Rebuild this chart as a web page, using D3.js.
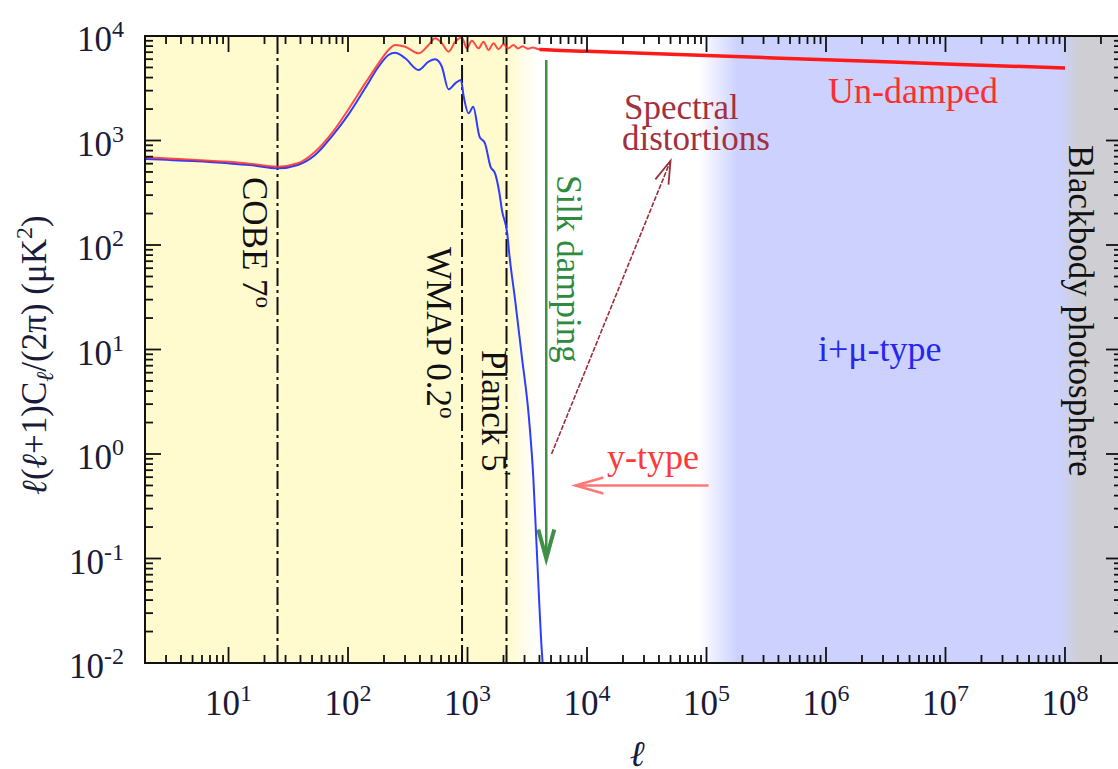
<!DOCTYPE html>
<html><head><meta charset="utf-8">
<script src="https://cdn.jsdelivr.net/npm/d3@7"></script>
<style>
body{margin:0;background:#fff}
svg{display:block}
text{font-family:"Liberation Serif","Times New Roman",serif}
</style>
</head><body>
<svg id="chart" width="1118" height="769"></svg>
<script>
// ---------------- data ----------------
const xDomain = [2, 3e8];
const yDomain = [0.01, 1e4];
const xTickExps = [1, 2, 3, 4, 5, 6, 7, 8];
const yTickExps = [-2, -1, 0, 1, 2, 3, 4];

// un-damped spectrum (red)
const undampedL = [2, 5, 10, 15, 26, 38, 53, 73, 100, 139, 180, 218, 248, 301, 389, 472, 537, 610, 693, 789, 896, 987, 1087, 1236, 1361, 1500, 1650, 1817, 2000, 2200, 2420, 2650, 2900, 3200, 3500, 4000, 5000, 1e4, 1e5, 1e6, 1e7, 1e8];
const undampedV = [690, 655, 625, 600, 562, 605, 781, 1170, 1960, 3520, 5480, 7350, 8200, 7900, 6820, 8200, 9500, 8510, 7080, 8820, 9700, 7620, 9000, 7620, 8820, 7350, 8510, 7470, 8330, 7620, 8200, 7600, 8000, 7550, 7750, 7450, 7350, 7140, 6500, 5930, 5410, 4940];

// Silk-damped spectrum (blue)
const dampedL = [2, 5, 10, 15, 26, 38, 53, 73, 100, 139, 180, 218, 248, 301, 389, 472, 537, 610, 693, 789, 880, 930, 1020, 1115, 1260, 1400, 1560, 1700, 1850, 1940, 2150, 2250, 2500, 2850, 3240, 3550, 3800, 4180, 4250];
const dampedV = [665, 635, 605, 583, 542, 583, 726, 1090, 1750, 3160, 5080, 6580, 6920, 6120, 4730, 5680, 5980, 5080, 3090, 3520, 3790, 2620, 1820, 2100, 1090, 940, 560, 485, 313, 216, 129, 77, 30, 8.5, 2.45, 0.61, 0.12, 0.0133, 0.01];

// experiment resolution limits
const experimentNames = ["COBE 7", "WMAP 0.2", "Planck 5"];
const experimentMarks = ["o", "o", "'"];
const experimentL = [25.7, 900, 2120];

// background region edges in multipole (yellow end, white start, white end, blue start, blue end, grey start)
const regionEdgesL = [2200, 3900, 8.6e4, 1.85e5, 9.0e7, 1.3e8];

// arrows [l1, v1, l2, v2]
const silkArrow = [4560, 5890, 4560, 0.1];
const spectralArrow = [5050, 1.0, 50000, 640];
const yTypeArrow = [1.04e5, 0.5, 8000, 0.5];

// ---------------- drawing ----------------
const svg = d3.select("#chart");
const M = {l: 145, t: 36, r: 1122, b: 663};
const x = d3.scaleLog().domain(xDomain).range([M.l, M.r]);
const y = d3.scaleLog().domain(yDomain).range([M.b, M.t]);

const defs = svg.append("defs");
defs.append("clipPath").attr("id", "clip").append("rect")
  .attr("x", M.l).attr("y", M.t).attr("width", M.r - M.l).attr("height", M.b - M.t);

const YEL = "#fffbcf", WHITE = "#ffffff", BLUE = "#ccd1fd", GREY = "#cfcfd3";
const off = l => (x(l) - M.l) / (M.r - M.l);
const grad = defs.append("linearGradient").attr("id", "bg")
  .attr("gradientUnits", "userSpaceOnUse")
  .attr("x1", M.l).attr("x2", M.r).attr("y1", 0).attr("y2", 0);
const stops = [[0, YEL], [off(regionEdgesL[0]), YEL], [off(regionEdgesL[1]), WHITE],
  [off(regionEdgesL[2]), WHITE], [off(regionEdgesL[3]), BLUE], [off(regionEdgesL[4]), BLUE],
  [off(regionEdgesL[5]), GREY], [1, GREY]];
stops.forEach(s => grad.append("stop").attr("offset", s[0]).attr("stop-color", s[1]));

svg.append("rect").attr("x", M.l).attr("y", M.t).attr("width", M.r - M.l).attr("height", M.b - M.t)
  .attr("fill", "url(#bg)");

const plot = svg.append("g").attr("clip-path", "url(#clip)");

// experiment lines
plot.selectAll("line.exp").data(experimentL).enter().append("line")
  .attr("x1", d => x(d)).attr("x2", d => x(d)).attr("y1", M.t).attr("y2", M.b)
  .attr("stroke", "#111").attr("stroke-width", 2).attr("stroke-dasharray", "18,4,3,4");

// curves
const line = d3.line().x(d => x(d[0])).y(d => y(d[1])).curve(d3.curveMonotoneX);
const damped = dampedL.map((l, i) => [l, dampedV[i]]);
const undamped = undampedL.map((l, i) => [l, undampedV[i]]);

plot.append("path").attr("d", line(damped)).attr("fill", "none")
  .attr("stroke", "#2f3cff").attr("stroke-width", 2);
plot.append("path").attr("d", line(undamped)).attr("fill", "none")
  .attr("stroke", "#ff2a2a").attr("stroke-width", 2).attr("stroke-opacity", 0.85);
plot.append("path").attr("d", line(undamped.filter(d => d[0] >= 4000))).attr("fill", "none")
  .attr("stroke", "#ff1a1a").attr("stroke-width", 3.5);

// arrows
function arrow(g, a, color, width, headLen, headAng, headWidth, dash) {
  const x1 = x(a[0]), y1 = y(a[1]), x2 = x(a[2]), y2 = y(a[3]);
  g.append("line").attr("x1", x1).attr("y1", y1).attr("x2", x2).attr("y2", y2)
    .attr("stroke", color).attr("stroke-width", width).attr("stroke-dasharray", dash || null);
  const ang = Math.atan2(y2 - y1, x2 - x1);
  const p = s => [x2 - headLen * Math.cos(ang + s * headAng), y2 - headLen * Math.sin(ang + s * headAng)];
  const a1 = p(1), a2 = p(-1);
  g.append("path").attr("d", `M${a1[0]},${a1[1]}L${x2},${y2}L${a2[0]},${a2[1]}`)
    .attr("fill", "none").attr("stroke", color).attr("stroke-width", headWidth)
    .attr("stroke-linejoin", "miter");
}
arrow(svg, silkArrow, "#3f8f46", 2.5, 30, 0.27, 4);
arrow(svg, spectralArrow, "#9a2f3c", 1.6, 24, 0.3, 1.8, "5,1.5");
arrow(svg, yTypeArrow, "#ff7777", 2.5, 29, 0.28, 2.5);

// frame + ticks
const axisG = svg.append("g");
axisG.append("rect").attr("x", M.l).attr("y", M.t).attr("width", M.r - M.l).attr("height", M.b - M.t)
  .attr("fill", "none").attr("stroke", "#111").attr("stroke-width", 2);

function tickVals(domain) {
  const out = [];
  for (let k = Math.floor(Math.log10(domain[0])) - 1; k <= Math.ceil(Math.log10(domain[1])); k++)
    for (let m = 1; m <= 9; m++) {
      const v = m * Math.pow(10, k);
      if (v >= domain[0] * 0.999 && v <= domain[1] * 1.001) out.push({v, major: m === 1});
    }
  return out;
}
const MAJ = 16, MIN = 8;
tickVals(xDomain).forEach(t => {
  const px = x(t.v), len = t.major ? MAJ : MIN;
  axisG.append("line").attr("x1", px).attr("x2", px).attr("y1", M.b).attr("y2", M.b - len).attr("stroke", "#111").attr("stroke-width", 1.8);
  axisG.append("line").attr("x1", px).attr("x2", px).attr("y1", M.t).attr("y2", M.t + len).attr("stroke", "#111").attr("stroke-width", 1.8);
});
tickVals(yDomain).forEach(t => {
  const py = y(t.v), len = t.major ? MAJ : MIN;
  axisG.append("line").attr("y1", py).attr("y2", py).attr("x1", M.l).attr("x2", M.l + len).attr("stroke", "#111").attr("stroke-width", 1.8);
  axisG.append("line").attr("y1", py).attr("y2", py).attr("x1", M.r).attr("x2", M.r - len).attr("stroke", "#111").attr("stroke-width", 1.8);
});

// tick labels
const LBL = "#1a1a3a";
xTickExps.forEach(e => {
  const t = svg.append("text").attr("x", x(Math.pow(10, e))).attr("y", 715)
    .attr("text-anchor", "middle").attr("font-size", 35).attr("fill", LBL);
  t.append("tspan").text("10");
  t.append("tspan").attr("dy", -14).attr("font-size", 24).text(e);
});
yTickExps.forEach(e => {
  const t = svg.append("text").attr("x", 124).attr("y", y(Math.pow(10, e)) + 15)
    .attr("text-anchor", "end").attr("font-size", 35).attr("fill", LBL);
  t.append("tspan").text("10");
  t.append("tspan").attr("dy", -14).attr("font-size", 24).text(e);
});

// axis titles
svg.append("text").attr("x", 637).attr("y", 766).attr("text-anchor", "middle")
  .attr("font-size", 36).attr("font-style", "italic").attr("fill", LBL).text("ℓ");
const yt = svg.append("text").attr("transform", "translate(46,355) rotate(-90)")
  .attr("text-anchor", "middle").attr("font-size", 35).attr("fill", LBL);
yt.append("tspan").attr("font-style", "italic").text("ℓ");
yt.append("tspan").text("(");
yt.append("tspan").attr("font-style", "italic").text("ℓ");
yt.append("tspan").text("+1)C");
yt.append("tspan").attr("font-style", "italic").attr("font-size", 24).attr("dy", 7).text("ℓ");
yt.append("tspan").attr("dy", -7).text("/(2π) (μK");
yt.append("tspan").attr("font-size", 24).attr("dy", -14).text("2");
yt.append("tspan").attr("dy", 14).text(")");

// experiment labels (rotated)
const expLabelOffset = [-35, -35, -25];
const expLabelStart = [177, 247, 350];
experimentL.forEach((l, i) => {
  const t = svg.append("text")
    .attr("transform", `translate(${x(l) + expLabelOffset[i]},${expLabelStart[i]}) rotate(90)`)
    .attr("font-size", 35).attr("fill", "#111");
  t.append("tspan").text(experimentNames[i]);
  t.append("tspan").attr("dy", -13).attr("font-size", 23).text(experimentMarks[i]);
});

// annotations
svg.append("text").attr("transform", "translate(557,175) rotate(90)")
  .attr("font-size", 35).attr("fill", "#2e8a3c").text("Silk damping");
svg.append("text").attr("transform", "translate(1069,145) rotate(90)")
  .attr("font-size", 35).attr("fill", "#111").text("Blackbody photosphere");
svg.append("text").attr("x", 828).attr("y", 103).attr("font-size", 36).attr("fill", "#ff2d2d").text("Un-damped");
const sd = svg.append("text").attr("font-size", 35).attr("fill", "#a3303e");
sd.append("tspan").attr("x", 624).attr("y", 119).text("Spectral");
sd.append("tspan").attr("x", 622).attr("y", 150).text("distortions");
svg.append("text").attr("x", 607).attr("y", 469).attr("font-size", 36).attr("fill", "#ff3838").text("y-type");
svg.append("text").attr("x", 818).attr("y", 361).attr("font-size", 36).attr("fill", "#2626ee").text("i+μ-type");
</script>
</body></html>
